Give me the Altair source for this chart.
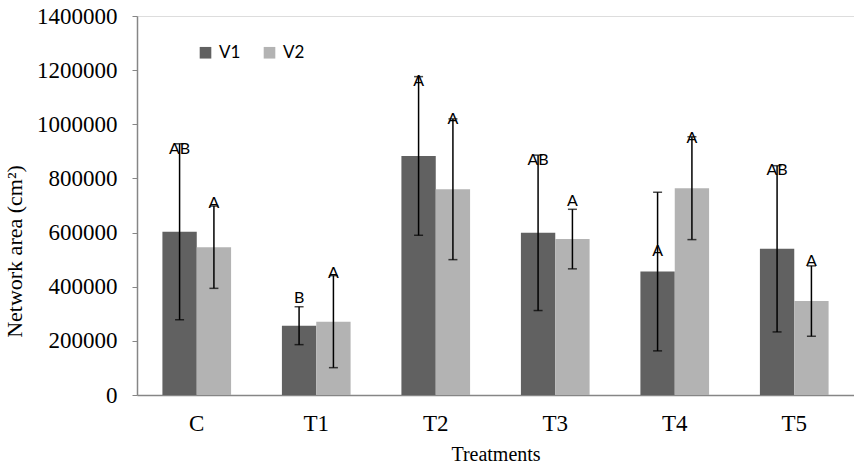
import altair as alt
import pandas as pd

# Treatments and the two series
treatments = ["C", "T1", "T2", "T3", "T4", "T5"]
series = ["V1", "V2"]

# Mean network area (cm²) and its error for each series
v1_mean = [603000, 256000, 883000, 599000, 456000, 540000]
v1_err = [325000, 70000, 293000, 287000, 293000, 307000]
v2_mean = [546000, 271000, 760000, 576000, 764000, 347000]
v2_err = [152000, 170000, 260000, 110000, 190000, 130000]

# Significance letters and the height they are written at
v1_letters = ["AB", "B", "A", "AB", "A", "AB"]
v2_letters = ["A", "A", "A", "A", "A", "A"]
v1_letter_y = [908000, 358000, 1160000, 868000, 532000, 831000]
v2_letter_y = [709000, 452000, 1019000, 716000, 951000, 495000]

rows = []
for name, means, errs, letters, ly in [
    ("V1", v1_mean, v1_err, v1_letters, v1_letter_y),
    ("V2", v2_mean, v2_err, v2_letters, v2_letter_y),
]:
    for t, m, e, l, y in zip(treatments, means, errs, letters, ly):
        rows.append({"treatment": t, "series": name, "mean": m,
                     "lo": m - e, "hi": m + e, "letter": l, "letter_y": y})
df = pd.DataFrame(rows)

serif = "Liberation Serif"
sans = "Lato"
axis_grey = "#868686"

x_enc = alt.X(
    "treatment:N", sort=treatments,
    scale=alt.Scale(paddingInner=0, paddingOuter=0),
    axis=alt.Axis(title="Treatments", labelAngle=0, ticks=False, tickSize=0,
                  labelPadding=17, labelFont=serif, labelFontSize=23,
                  labelColor="black", titleFont=serif, titleFontSize=20,
                  titleFontWeight="normal", titleColor="black",
                  titlePadding=9, domainColor=axis_grey, domainWidth=1.5,
                  grid=False),
)
xo_enc = alt.XOffset("series:N", sort=series,
                     scale=alt.Scale(paddingInner=0, paddingOuter=0.74))
y_scale = alt.Scale(domain=[0, 1400000], nice=False)

base = alt.Chart(df).encode(x=x_enc, xOffset=xo_enc)

bars = base.mark_bar().encode(
    y=alt.Y("mean:Q", scale=y_scale,
            axis=alt.Axis(title="Network area (cm²)",
                          values=list(range(0, 1400001, 200000)), format="d",
                          labelFont=serif, labelFontSize=23, labelColor="black",
                          labelPadding=15, tickSize=5, tickColor=axis_grey,
                          domainColor=axis_grey, domainWidth=1.5, grid=False,
                          titleFont=serif, titleFontSize=22,
                          titleFontWeight="normal", titleColor="black",
                          titlePadding=10, titleY=235)),
    color=alt.Color("series:N", sort=series,
                    scale=alt.Scale(domain=series, range=["#616161", "#b3b3b3"]),
                    legend=alt.Legend(title=None, orient="none", direction="horizontal",
                                      legendX=60, legendY=28, padding=0,
                                      symbolType="square", symbolSize=135,
                                      symbolStrokeWidth=0, labelFont=sans,
                                      labelFontSize=17, labelColor="black",
                                      labelOffset=5, columnPadding=20)),
)

whisker = base.mark_rule(color="black", strokeWidth=1.5).encode(
    y=alt.Y("lo:Q", scale=y_scale), y2="hi:Q"
)
cap_hi = base.mark_tick(color="black", thickness=1.5, size=9, orient="horizontal").encode(
    y=alt.Y("hi:Q", scale=y_scale)
)
cap_lo = base.mark_tick(color="black", thickness=1.5, size=9, orient="horizontal").encode(
    y=alt.Y("lo:Q", scale=y_scale)
)
letters = base.mark_text(font=sans, fontSize=16, color="black", baseline="middle").encode(
    y=alt.Y("letter_y:Q", scale=y_scale), text="letter:N"
)

chart = (
    alt.layer(bars, whisker, cap_hi, cap_lo, letters)
    .properties(width=717, height=379,
                autosize=alt.AutoSizeParams(type="none"),
                padding={"left": 137, "top": 16, "right": 0, "bottom": 69})
    .configure_view(stroke=None)
    .configure(background="white")
)

chart.save("out.html", embed_options={"renderer": "svg", "actions": False})
